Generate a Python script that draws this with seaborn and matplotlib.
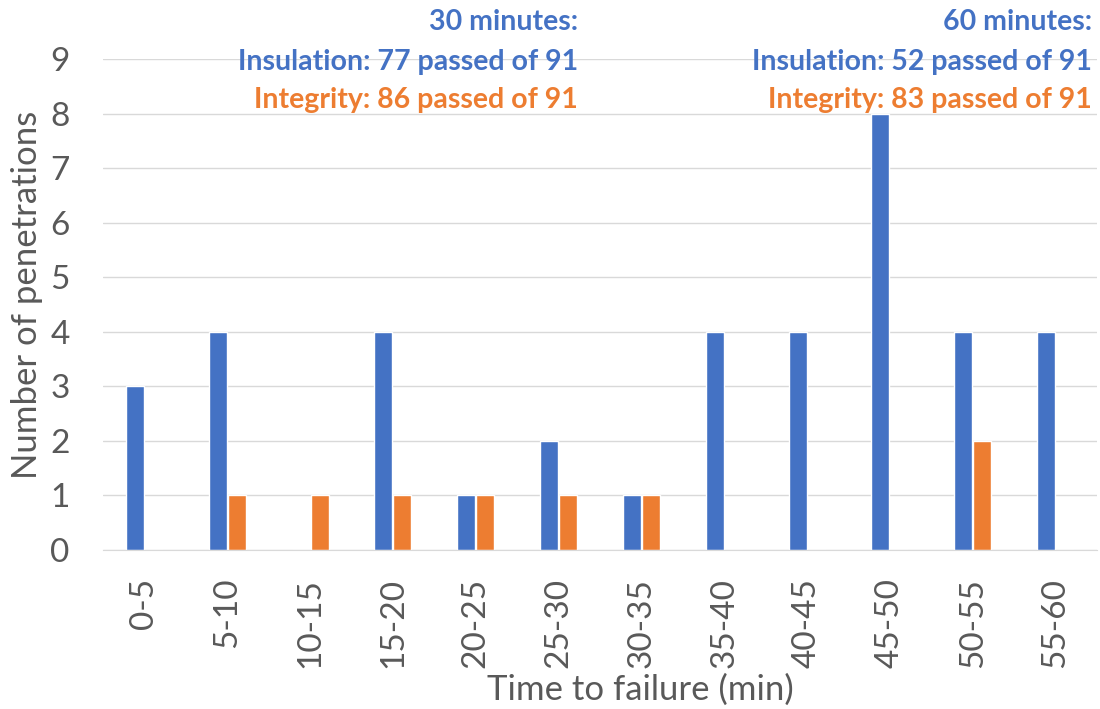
import pandas as pd
import matplotlib
matplotlib.use("Agg")
import matplotlib.pyplot as plt
import seaborn as sns

# Data
categories = ['0-5', '5-10', '10-15', '15-20', '20-25', '25-30',
              '30-35', '35-40', '40-45', '45-50', '50-55', '55-60']
insulation = [3, 4, 0, 4, 1, 2, 1, 4, 4, 8, 4, 4]
integrity = [0, 1, 1, 1, 1, 1, 1, 0, 0, 0, 2, 0]

notes_30 = ['30 minutes:', 'Insulation: 77 passed of 91', 'Integrity: 86 passed of 91']
notes_60 = ['60 minutes:', 'Insulation: 52 passed of 91', 'Integrity: 83 passed of 91']

blue = '#4472C4'
orange = '#ED7D31'
grey = '#595959'

df = pd.DataFrame({
    'Time': categories * 2,
    'Count': insulation + integrity,
    'Type': ['Insulation'] * len(categories) + ['Integrity'] * len(categories),
})

sns.set_style('white')
plt.rcParams['font.family'] = ['Lato', 'DejaVu Sans']

fig = plt.figure(figsize=(11, 7.09), dpi=100)
ax = fig.add_axes([103 / 1100, 1 - 550 / 709, 994 / 1100, 491 / 709])

sns.barplot(
    data=df, x='Time', y='Count', hue='Type',
    palette=[blue, orange], width=0.46, gap=0.06,
    legend=False, ax=ax, order=categories, saturation=1,
)

ax.set_xlim(-0.5, len(categories) - 0.5)
ax.set_ylim(0, 9)
ax.set_yticks(range(10))
ax.yaxis.grid(True, color='#d9d9d9', linewidth=1)
ax.set_axisbelow(True)
for s in ['left', 'right', 'top']:
    ax.spines[s].set_visible(False)
ax.spines['bottom'].set_color('#d9d9d9')

ax.tick_params(axis='both', length=0, labelsize=24, labelcolor=grey)
ax.tick_params(axis='y', pad=24)
ax.tick_params(axis='x', labelrotation=90, pad=20)
ax.set_xlabel('Time to failure (min)', fontsize=25, color=grey)
ax.set_ylabel('Number of penetrations', fontsize=25, color=grey)
ax.xaxis.set_label_coords(0.541, -0.252)
ax.yaxis.set_label_coords(-0.060, 0.519)

colors = [blue, blue, orange]
ys = [22, 62, 100]
for x_px, notes in [(578, notes_30), (1092, notes_60)]:
    for txt, c, y_px in zip(notes, colors, ys):
        fig.text(x_px / 1100, 1 - y_px / 709, txt, ha='right', va='center',
                 color=c, fontsize=20.5, fontweight='bold')

fig.savefig('out.png', dpi=100)
